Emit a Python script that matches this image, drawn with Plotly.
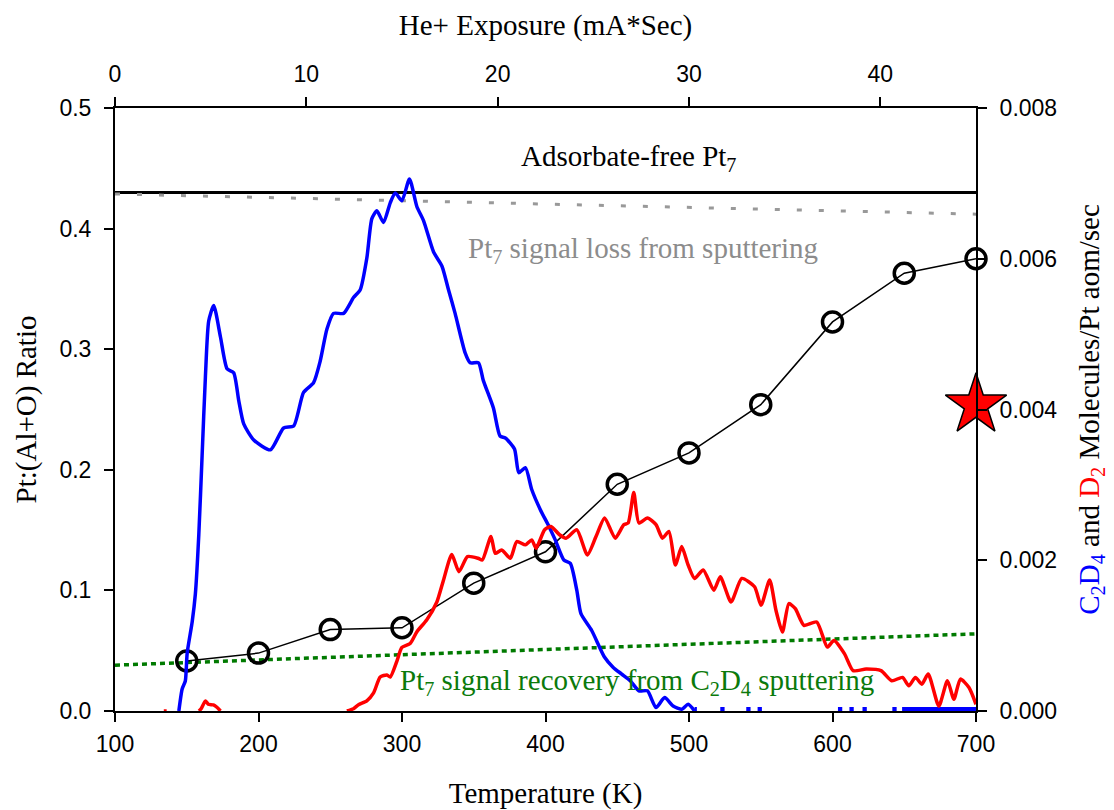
import plotly.graph_objects as go

# ---------------- data ----------------
# Pt:(Al+O) ratio vs temperature (left axis)
ratio_T = [150, 200, 250, 300, 350, 400, 450, 500, 550, 600, 650, 700]
ratio_val = [0.0415, 0.048, 0.0675, 0.069, 0.106, 0.132, 0.188, 0.214, 0.254, 0.3226, 0.363, 0.375]

# reference lines (left axis)
adsorbate_free_T = [100, 700]
adsorbate_free_val = [0.43, 0.43]
sputter_loss_T = [100, 700]
sputter_loss_val = [0.4287, 0.412]
recovery_T = [100, 700]
recovery_val = [0.038, 0.064]

# C2D4 desorption (right axis, molecules/Pt atom/sec)
c2d4_T = [144.5, 146.8, 149, 150.3, 153.8, 156, 158.4, 160.7, 163, 165.3, 168.8, 173.5, 178.1, 182.7,
          186.2, 189.7, 196.7, 208.3, 217.5, 224.5, 231.4, 238.4, 243, 247.7, 252.3, 259.3, 266.2,
          270.9, 275.5, 279, 282.5, 287.1, 291.8, 295.3, 299.9, 305.2, 310.4, 315, 322, 327.8, 332.4,
          337, 344, 347.5, 353.3, 356.7, 363.7, 368.3, 372, 378.4, 381.4, 386, 390.4, 396.4, 402.4,
          406.8, 412.8, 417.3, 421.8, 424.7, 432.2, 441.2, 447.2, 453.1, 459.1, 465.1, 471, 477, 483,
          488.9, 495, 499.4, 503.9]
c2d4_val = [0, 0.292, 0.398, 0.769, 1.185, 1.552, 2.338, 3.387, 4.435, 5.174, 5.380, 4.962, 4.540, 4.488,
            4.121, 3.808, 3.595, 3.465, 3.755, 3.781, 4.226, 4.357, 4.643, 5.068, 5.275, 5.275, 5.485,
            5.589, 6.010, 6.533, 6.637, 6.481, 6.742, 6.874, 6.769, 7.058, 6.690, 6.506, 6.090, 5.904, 5.589,
            5.275, 4.751, 4.620, 4.620, 4.383, 4.020, 3.648, 3.622, 3.476, 3.161, 3.228, 2.939, 2.671, 2.449,
            2.270, 2.003, 1.958, 1.603, 1.291, 1.068, 0.712, 0.578, 0.490, 0.401, 0.267, 0.267, 0.045, 0.178,
            0.066, 0.023, 0.089, 0]
c2d4_val = [v * 1e-3 for v in c2d4_val]

# C2D4 baseline fragments (zero signal)
c2d4_zero_T = [503.9, 505.5, None, 521.8, 524.8, None, 539.9, 542.9, None, 547.8, 550.8, None,
               603.8, 606.8, None, 611.8, 614.8, None, 620.9, 623.9, None, 641.7, 644.7, None, 648.5, 700]
c2d4_zero_val = [0 if t is not None else None for t in c2d4_zero_T]

# D2 desorption (right axis)
d2_T = [134, 136, None, 158.5, 160, 163, 165, 168.6, 171, 173.5, None,
        261.6, 266.2, 269.7, 275.5, 280.2, 284.8, 289.5, 291.8, 296.4, 299.9, 305.7, 310.4, 317.3,
        324.3, 328.9, 334.7, 339.7, 345.6, 353, 356, 362, 365, 369.5, 375.5, 380, 386, 390.4, 393.4,
        399.4, 403.8, 409.8, 414.3, 421.8, 429.2, 435.2, 441.2, 448.6, 454.6, 457.6, 461.5, 465.1, 471,
        477, 481.5, 486, 490.5, 494.9, 499.4, 503.9, 509.9, 517.3, 521.8, 529.3, 536.8, 545.7, 550.2,
        556.2, 560.6, 565.1, 569.6, 574.1, 580.1, 589, 596.4, 601, 608.4, 614.4, 623.4, 633.8, 641.3,
        648.8, 653.2, 657.8, 662.2, 666.7, 674.1, 680.1, 684.6, 689.1, 695.1, 700]
d2_val = [0, 0, None, 0, 0.03, 0.133, 0.09, 0.08, 0.05, 0, None,
          0, 0.031, 0.084, 0.135, 0.240, 0.451, 0.478, 0.451, 0.659, 0.844, 0.896, 1.053, 1.210,
          1.446, 1.735, 2.076, 1.848, 2.048, 2.026, 2.003, 2.315, 2.092, 2.137, 2.026, 2.249, 2.204, 2.270, 2.160,
          2.404, 2.449, 2.338, 2.293, 2.404, 2.070, 2.315, 2.561, 2.293, 2.472, 2.494, 2.899, 2.494, 2.561,
          2.472, 2.293, 2.383, 1.937, 2.181, 1.937, 1.759, 1.871, 1.603, 1.780, 1.447, 1.759, 1.648, 1.402,
          1.737, 1.336, 1.047, 1.425, 1.357, 1.136, 1.181, 0.848, 0.935, 0.758, 0.535, 0.557, 0.535, 0.401,
          0.446, 0.334, 0.446, 0.356, 0.490, 0.066, 0.401, 0.155, 0.423, 0.312, 0.089]
d2_val = [v * 1e-3 if v is not None else None for v in d2_val]

# D2 reference point (star)
star_T = [700]
star_val = [0.00406]

# axis ticks
temp_ticks = [100, 200, 300, 400, 500, 600, 700]
exposure_ticks = [0, 10, 20, 30, 40]
left_ticks = [0.0, 0.1, 0.2, 0.3, 0.4, 0.5]
right_ticks = [0.000, 0.002, 0.004, 0.006, 0.008]

SERIF = "Liberation Serif"
SANS = "Liberation Sans"
GREEN = "#0b7a0b"
GRAY = "#8c8c8c"

fig = go.Figure()

# C2D4 (blue)
fig.add_trace(go.Scatter(x=c2d4_T, y=c2d4_val, mode="lines", yaxis="y2",
                         line=dict(color="#0000ff", width=3.5, shape="spline", smoothing=0.6),
                         showlegend=False))
fig.add_trace(go.Scatter(x=c2d4_zero_T, y=c2d4_zero_val, mode="lines", yaxis="y2",
                         line=dict(color="#0000ff", width=8), connectgaps=False, showlegend=False))
# D2 (red)
fig.add_trace(go.Scatter(x=d2_T, y=d2_val, mode="lines", yaxis="y2",
                         line=dict(color="#ff0000", width=3.5, shape="spline", smoothing=0.6),
                         connectgaps=False, showlegend=False))

# reference lines
fig.add_trace(go.Scatter(x=adsorbate_free_T, y=adsorbate_free_val, mode="lines",
                         line=dict(color="black", width=3), showlegend=False))
fig.add_trace(go.Scatter(x=sputter_loss_T, y=sputter_loss_val, mode="lines",
                         line=dict(color="#999999", width=3, dash="5px,17px"), showlegend=False))
fig.add_trace(go.Scatter(x=recovery_T, y=recovery_val, mode="lines",
                         line=dict(color="#007a00", width=3.5, dash="5px,4px"), showlegend=False))

# ratio data (open circles)
fig.add_trace(go.Scatter(x=ratio_T, y=ratio_val, mode="lines+markers",
                         line=dict(color="black", width=1.5),
                         marker=dict(symbol="circle-open", size=20, color="black", line=dict(width=3.5)),
                         cliponaxis=False, showlegend=False))

# star
fig.add_trace(go.Scatter(x=star_T, y=star_val, mode="markers", yaxis="y2",
                         marker=dict(symbol="star", size=46, color="#ff0000",
                                     line=dict(color="black", width=1.5)),
                         cliponaxis=False, showlegend=False))

# dummy trace to activate top axis
fig.add_trace(go.Scatter(x=[0, 45], y=[None, None], xaxis="x2", mode="lines", showlegend=False,
                         hoverinfo="skip"))

tickfont = dict(family=SANS, size=23, color="black")
titlefont = dict(family=SERIF, size=29, color="black")
common = dict(ticks="outside", ticklen=9, tickwidth=1.5, tickcolor="black", showline=True,
              linecolor="black", linewidth=2, showgrid=False, zeroline=False, tickfont=tickfont,
              automargin=False)

fig.update_layout(
    width=1114, height=810,
    margin=dict(l=115, r=138, t=108, b=99),
    plot_bgcolor="white", paper_bgcolor="white",
    xaxis=dict(range=[100, 700], tickvals=temp_ticks, ticklabelstandoff=2,
               title=dict(text="Temperature (K)", font=titlefont, standoff=29), **common),
    xaxis2=dict(range=[0, 45], tickvals=exposure_ticks, overlaying="x", side="top", ticklabelstandoff=6,
                title=dict(text="He+ Exposure (mA*Sec)", font=titlefont, standoff=17), **common),
    yaxis=dict(range=[0, 0.5], tickvals=left_ticks, tickformat=".1f", ticklabelstandoff=8,
               title=dict(text="Pt:(Al+O) Ratio", font=titlefont, standoff=14), **common),
    yaxis2=dict(range=[0, 0.008], tickvals=right_ticks, tickformat=".3f", overlaying="y", side="right",
                ticklabelstandoff=8,
                title=dict(text="<span style='color:#0000ff'>C<sub>2</sub>D<sub>4</sub></span> and "
                                "<span style='color:#ff0000'>D<sub>2</sub></span> Molecules/Pt aom/sec",
                           font=titlefont, standoff=22), **common),
    annotations=[
        dict(text="Adsorbate-free Pt<sub>7</sub>", xref="paper", yref="paper", x=0.596, y=0.917,
             xanchor="center", yanchor="middle", showarrow=False,
             font=dict(family=SERIF, size=29, color="black")),
        dict(text="Pt<sub>7</sub> signal loss from sputtering", xref="paper", yref="paper",
             x=0.408, y=0.7645, xanchor="left", yanchor="middle", showarrow=False,
             font=dict(family=SERIF, size=29, color=GRAY)),
        dict(text="Pt<sub>7</sub> signal recovery from C<sub>2</sub>D<sub>4</sub> sputtering",
             xref="paper", yref="paper", x=0.3287, y=0.048, xanchor="left", yanchor="middle",
             showarrow=False, font=dict(family=SERIF, size=29, color=GREEN)),
    ],
)

fig.write_html("out.html")
